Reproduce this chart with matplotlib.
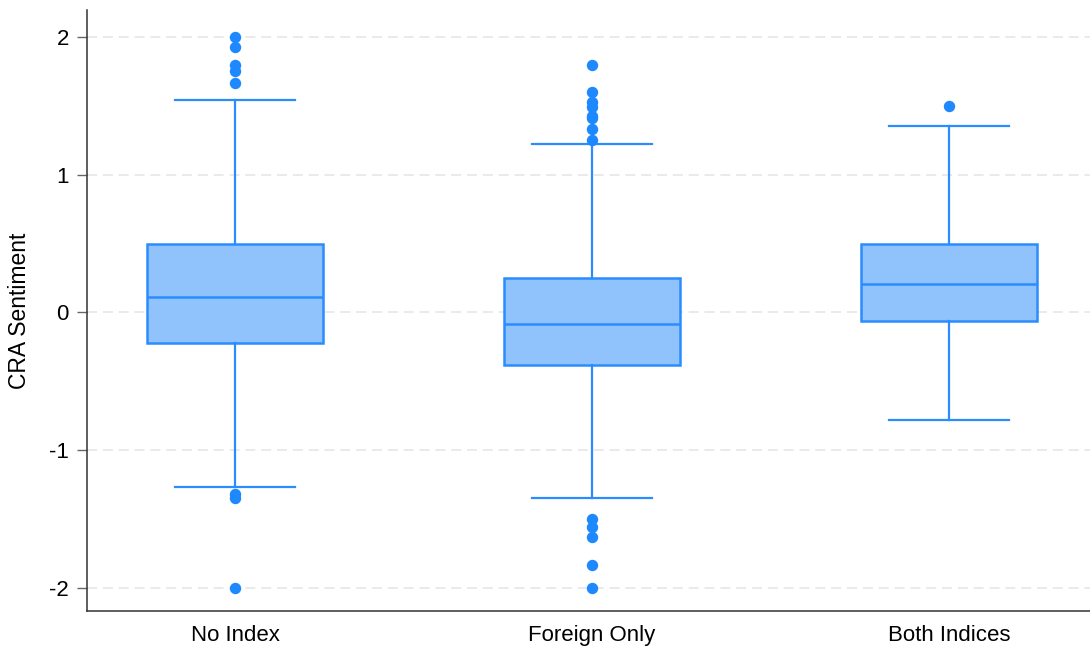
import matplotlib
matplotlib.use("Agg")
import matplotlib.pyplot as plt

plt.rcParams["font.family"] = ["Liberation Sans", "DejaVu Sans"]

categories = ["No Index", "Foreign Only", "Both Indices"]

# Box summary statistics per group
whisker_low = [-1.27, -1.345, -0.778]
q1 = [-0.218, -0.378, -0.065]
median = [0.116, -0.087, 0.204]
q3 = [0.495, 0.247, 0.495]
whisker_high = [1.54, 1.222, 1.353]

# Outlying observations per group
outliers = [
    [2.0, 1.93, 1.80, 1.75, 1.665, -1.32, -1.345, -2.0],
    [1.80, 1.60, 1.53, 1.49, 1.43, 1.41, 1.33, 1.25,
     -1.50, -1.556, -1.627, -1.835, -2.0],
    [1.50],
]

yticks = [-2, -1, 0, 1, 2]

edge = "#2a8cff"
face = "#90c3fb"

stats = []
for i, name in enumerate(categories):
    stats.append(dict(label=name, whislo=whisker_low[i], q1=q1[i],
                      med=median[i], q3=q3[i], whishi=whisker_high[i],
                      fliers=outliers[i]))

fig = plt.figure(figsize=(10.9, 6.49), dpi=100)
ax = fig.add_axes([87 / 1090, 38 / 649, 1 - 87 / 1090, (611 - 10) / 649])

ax.bxp(stats, positions=[1, 2, 3], widths=0.493, capwidths=0.336,
       patch_artist=True, showfliers=True,
       boxprops=dict(facecolor=face, edgecolor=edge, linewidth=1.8),
       medianprops=dict(color=edge, linewidth=1.8),
       whiskerprops=dict(color=edge, linewidth=1.6),
       capprops=dict(color=edge, linewidth=1.6),
       flierprops=dict(marker="o", markerfacecolor="#1e88ff",
                       markeredgecolor="#1e88ff", markersize=7.2))

ax.set_xlim(0.585, 3.395)
ax.set_ylim(-2.167, 2.196)
ax.set_yticks(yticks)
ax.set_yticklabels([str(t) for t in yticks])

ax.yaxis.grid(True, color="#e6e6e6", linestyle=(0, (6, 3.5)), linewidth=1.2)
ax.set_axisbelow(True)

ax.spines["top"].set_visible(False)
ax.spines["right"].set_visible(False)
ax.spines["left"].set_color("#333333")
ax.spines["bottom"].set_color("#333333")
ax.spines["left"].set_linewidth(1.1)
ax.spines["bottom"].set_linewidth(1.1)

ax.tick_params(axis="y", length=7, width=1, color="#666666",
               labelsize=16, pad=6)
ax.tick_params(axis="x", length=0, labelsize=16, pad=10)
ax.set_ylabel("CRA Sentiment", fontsize=16.5, va="center")
ax.yaxis.set_label_coords(-0.067, 0.5)

fig.savefig("out.png", dpi=100)
